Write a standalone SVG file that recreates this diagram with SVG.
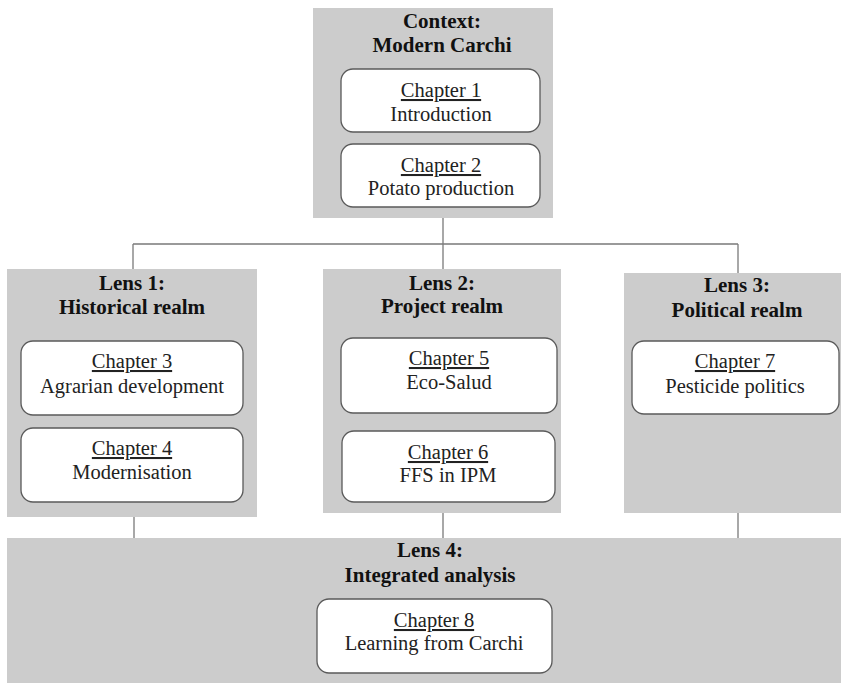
<svg xmlns="http://www.w3.org/2000/svg" width="841" height="683" viewBox="0 0 841 683">
<style>
.panel{fill:#cccccc;stroke:none}
.ch{fill:#ffffff;stroke:#5a5a5a;stroke-width:1.3}
.conn{stroke:#7a7a7a;stroke-width:1.3;fill:none}
.t{font-family:"Liberation Serif","Times New Roman",serif;font-size:21px;font-weight:bold;fill:#111;text-anchor:middle}
.c{font-family:"Liberation Serif","Times New Roman",serif;font-size:20.5px;fill:#222;text-anchor:middle}
.u{text-decoration:underline}
</style>
<rect width="841" height="683" fill="#ffffff"/>
<g id="connectors">
<path class="conn" d="M443 218V244M133 244H738M133 244V269M443 244V269M738 244V273"/>
<path class="conn" d="M134 517V538M443 513V538M738 513V538"/>
</g>
<g id="context">
<rect class="panel" x="313" y="8" width="240" height="210"/>
<text class="t" x="442" y="28">Context:</text>
<text class="t" x="442" y="52">Modern Carchi</text>
</g>
<g id="chapter1">
<rect class="ch" x="341" y="69" width="199" height="63" rx="12"/>
<text class="c u" x="441" y="97">Chapter 1</text>
<text class="c" x="441" y="121">Introduction</text>
</g>
<g id="chapter2">
<rect class="ch" x="341" y="144" width="199" height="63" rx="12"/>
<text class="c u" x="441" y="172">Chapter 2</text>
<text class="c" x="441" y="195">Potato production</text>
</g>
<g id="lens1">
<rect class="panel" x="7" y="269" width="250" height="248"/>
<text class="t" x="132" y="290">Lens 1:</text>
<text class="t" x="132" y="314">Historical realm</text>
</g>
<g id="chapter3">
<rect class="ch" x="21" y="341" width="222" height="74" rx="12"/>
<text class="c u" x="132" y="368">Chapter 3</text>
<text class="c" x="132" y="393">Agrarian development</text>
</g>
<g id="chapter4">
<rect class="ch" x="21" y="428" width="222" height="74" rx="12"/>
<text class="c u" x="132" y="455">Chapter 4</text>
<text class="c" x="132" y="479">Modernisation</text>
</g>
<g id="lens2">
<rect class="panel" x="323" y="269" width="238" height="244"/>
<text class="t" x="442" y="290">Lens 2:</text>
<text class="t" x="442" y="313">Project realm</text>
</g>
<g id="chapter5">
<rect class="ch" x="341" y="338" width="216" height="75" rx="12"/>
<text class="c u" x="449" y="365">Chapter 5</text>
<text class="c" x="449" y="389">Eco-Salud</text>
</g>
<g id="chapter6">
<rect class="ch" x="342" y="431" width="213" height="71" rx="12"/>
<text class="c u" x="448" y="459">Chapter 6</text>
<text class="c" x="448" y="482">FFS in IPM</text>
</g>
<g id="lens3">
<rect class="panel" x="624" y="273" width="220" height="240"/>
<text class="t" x="737" y="292">Lens 3:</text>
<text class="t" x="737" y="317">Political realm</text>
</g>
<g id="chapter7">
<rect class="ch" x="632" y="341" width="207" height="73" rx="12"/>
<text class="c u" x="735" y="368">Chapter 7</text>
<text class="c" x="735" y="393">Pesticide politics</text>
</g>
<g id="lens4">
<rect class="panel" x="7" y="538" width="840" height="150"/>
<text class="t" x="430" y="557">Lens 4:</text>
<text class="t" x="430" y="582">Integrated analysis</text>
</g>
<g id="chapter8">
<rect class="ch" x="317" y="599" width="235" height="74" rx="12"/>
<text class="c u" x="434" y="627">Chapter 8</text>
<text class="c" x="434" y="650">Learning from Carchi</text>
</g>
</svg>
